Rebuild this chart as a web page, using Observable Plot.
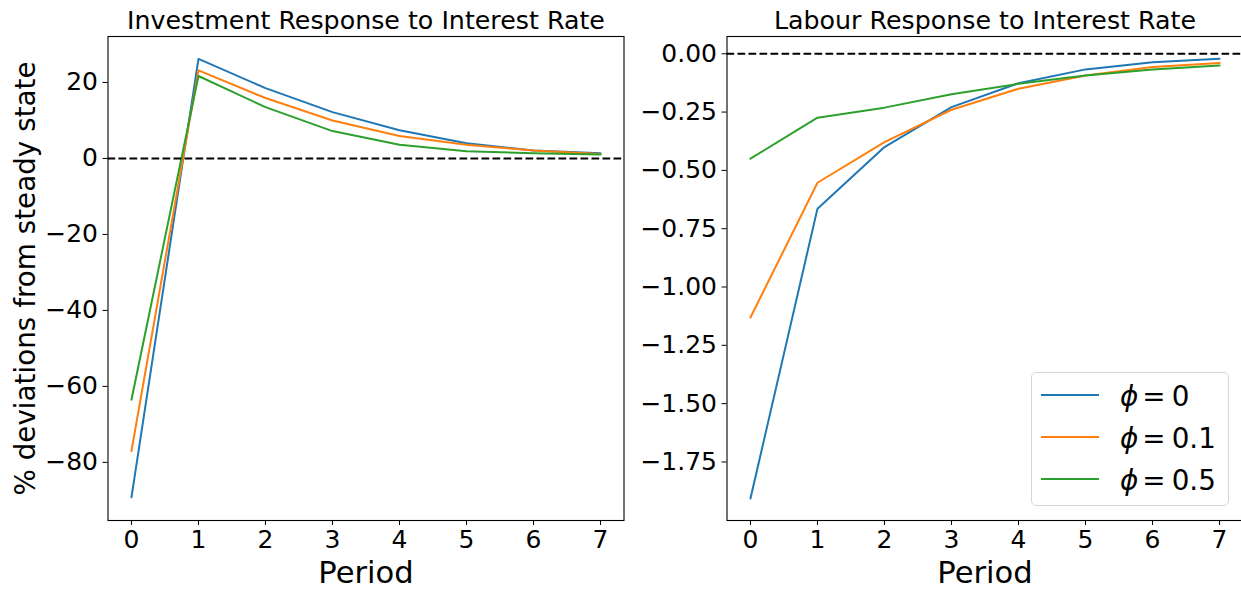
<!DOCTYPE html>
<html>
<head>
<meta charset="utf-8">
<script src="https://cdn.jsdelivr.net/npm/d3@7"></script>
<script src="https://cdn.jsdelivr.net/npm/@observablehq/plot@0.6"></script>
<style>
  body { margin: 0; background: #fff; font-family: "DejaVu Sans", sans-serif; }
  #wrap { position: relative; width: 1241px; height: 590px; overflow: hidden; background: #fff; }
  #wrap svg { position: absolute; top: 0; }
  .legend { position: absolute; box-sizing: border-box; border: 1px solid #d6d6d6; border-radius: 5px;
            background: rgba(255,255,255,0.8); font-family: "DejaVu Sans", sans-serif; }
  .legend .swatch { position: absolute; height: 2px; }
  .legend .label { position: absolute; font-size: 27.8px; line-height: 1; white-space: pre; color: #000; }
  .legend .label i { font-style: italic; }
  .legend .label .eq { margin: 0 6px 0 4px; }
</style>
</head>
<body>
<div id="wrap"></div>
<script>
// Impulse responses to an interest-rate shock, by degree of adjustment cost phi
const periods = [0, 1, 2, 3, 4, 5, 6, 7];
const phiValues = ["0", "0.1", "0.5"];
const seriesColors = ["#1f77b4", "#ff7f0e", "#2ca02c"];

// Investment, % deviation from steady state
const investmentPhi0  = [-89.2, 26.2, 18.5, 12.2, 7.4, 4.0, 2.1, 1.4];
const investmentPhi01 = [-77.0, 23.2, 15.9, 10.0, 5.9, 3.6, 2.1, 1.2];
const investmentPhi05 = [-63.5, 21.7, 13.5, 7.2, 3.6, 1.9, 1.4, 1.05];

// Labour, % deviation from steady state
const labourPhi0  = [-1.907, -0.664, -0.400, -0.229, -0.126, -0.067, -0.036, -0.021];
const labourPhi01 = [-1.131, -0.553, -0.379, -0.240, -0.150, -0.093, -0.057, -0.040];
const labourPhi05 = [-0.450, -0.274, -0.231, -0.174, -0.129, -0.093, -0.067, -0.050];

// Tick values
const investmentTicks = [-80, -60, -40, -20, 0, 20];
const labourTicks = [-1.75, -1.5, -1.25, -1.0, -0.75, -0.5, -0.25, 0];

function tidy(seriesList) {
  const rows = [];
  seriesList.forEach((values, i) => {
    values.forEach((v, j) => rows.push({series: phiValues[i], period: periods[j], value: v}));
  });
  return rows;
}

const investmentData = tidy([investmentPhi0, investmentPhi01, investmentPhi05]);
const labourData = tidy([labourPhi0, labourPhi01, labourPhi05]);

function panel({data, yDomain, yTicks, yFormat, title, ylabel, width, marginLeft, marginRight}) {
  return Plot.plot({
    width,
    height: 590,
    marginTop: 36,
    marginBottom: 70,
    marginLeft,
    marginRight,
    style: {fontFamily: "DejaVu Sans", fontSize: "25px", color: "black", background: "transparent", overflow: "visible"},
    x: {domain: [-0.35, 7.35]},
    y: {domain: yDomain},
    color: {domain: phiValues, range: seriesColors},
    marks: [
      Plot.line(data, {x: "period", y: "value", stroke: "series", strokeWidth: 2}),
      Plot.ruleY([0], {stroke: "black", strokeWidth: 2, strokeDasharray: "7.7,3.3"}),
      Plot.frame({stroke: "black", strokeWidth: 1.1}),
      Plot.axisX({ticks: periods, tickSize: 5, tickPadding: 5, tickFormat: d3.format("d"), label: null}),
      Plot.axisY({ticks: yTicks, tickSize: 5, tickPadding: 5, tickFormat: yFormat, label: null}),
      Plot.text([title], {frameAnchor: "top", textAnchor: "middle", lineAnchor: "bottom", dy: -8, fontSize: 25.3}),
      Plot.text(["Period"], {frameAnchor: "bottom", textAnchor: "middle", lineAnchor: "bottom", dy: 62, fontSize: 30.6}),
      ylabel ? Plot.text([ylabel], {frameAnchor: "left", textAnchor: "middle", lineAnchor: "bottom", rotate: -90, dx: -73, fontSize: 27.8}) : null
    ]
  });
}

const wrap = document.getElementById("wrap");

const left = panel({
  data: investmentData,
  yDomain: [-95.3, 32.1],
  yTicks: investmentTicks,
  yFormat: d3.format("d"),
  title: "Investment Response to Interest Rate",
  ylabel: "% deviations from steady state",
  width: 640, marginLeft: 107.5, marginRight: 16.5
});
left.style.left = "0px";
wrap.appendChild(left);

const right = panel({
  data: labourData,
  yDomain: [-2.001, 0.074],
  yTicks: labourTicks,
  yFormat: d3.format(".2f"),
  title: "Labour Response to Interest Rate",
  ylabel: null,
  width: 625, marginLeft: 106.5, marginRight: 2.5
});
right.style.left = "620px";
wrap.appendChild(right);

// Legend in the lower-right corner of the labour panel
const legend = document.createElement("div");
legend.className = "legend";
Object.assign(legend.style, {left: "1030.5px", top: "372px", width: "198px", height: "134px"});
phiValues.forEach((phi, i) => {
  const cy = 22.3 + i * 42;
  const sw = document.createElement("div");
  sw.className = "swatch";
  Object.assign(sw.style, {left: "9.5px", width: "57.6px", top: (cy - 1) + "px", background: seriesColors[i]});
  legend.appendChild(sw);
  const lab = document.createElement("div");
  lab.className = "label";
  Object.assign(lab.style, {left: "88.5px", top: (cy - 12.5) + "px"});
  lab.innerHTML = "<i>ϕ</i><span class=\"eq\">=</span>" + phi;
  legend.appendChild(lab);
});
wrap.appendChild(legend);
</script>
</body>
</html>
